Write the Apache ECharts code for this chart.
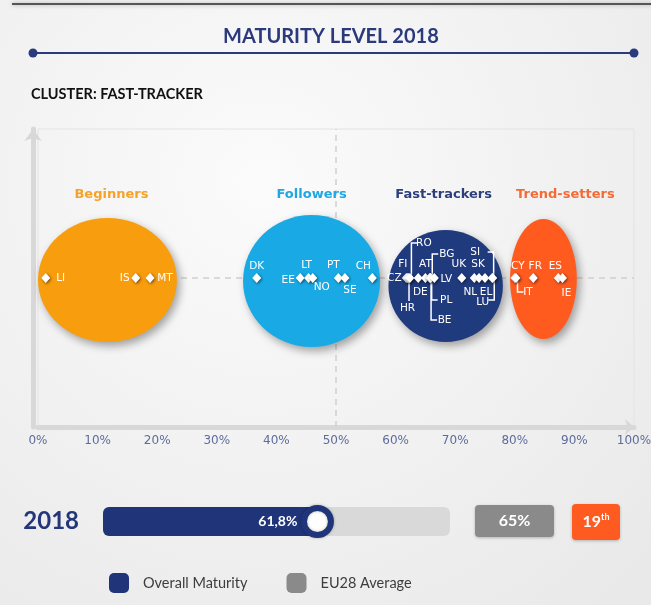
<!DOCTYPE html>
<html>
<head>
<meta charset="utf-8">
<script src="https://cdn.jsdelivr.net/npm/echarts@6.0.0/dist/echarts.min.js"></script>
<style>
  html, body { margin: 0; padding: 0; }
  #chart { width: 651px; height: 605px; }
</style>
</head>
<body>
<div id="chart"></div>
<script>
// Données
const clusterNames = ['Beginners', 'Followers', 'Fast-trackers', 'Trend-setters'];
const clusterFrom = [0, 34.4, 58.8, 79.2];
const clusterTo = [23.3, 57.4, 78.0, 90.4];

const countries = ['LI', 'IS', 'MT', 'DK', 'EE', 'LT', 'NO', 'PT', 'SE', 'CH',
  'CZ', 'HR', 'FI', 'RO', 'DE', 'AT', 'BE', 'PL', 'BG', 'LV',
  'UK', 'NL', 'SK', 'EL', 'SI', 'LU', 'CY', 'IT', 'FR', 'ES', 'IE'];
const maturity = [1.3, 16.4, 18.8, 36.7, 44.0, 45.4, 46.1, 50.4, 51.5, 56.1,
  61.8, 62.0, 62.2, 62.4, 63.8, 65.0, 65.7, 65.8, 65.9, 66.5,
  71.1, 73.2, 74.0, 75.0, 76.2, 76.3, 80.0, 80.2, 83.1, 87.3, 88.0];

const xTicks = [0, 10, 20, 30, 40, 50, 60, 70, 80, 90, 100];
const years = ['2018'];
const overall = [61.8];
const euAverage = 65;
const rank = 19;

// Styles
const NAVY = '#1F3479';
const clusterFill = ['#F89D0E', '#19AAE6', '#203A7E', '#FF5B1F'];
const clusterTitleColor = ['#F6A229', '#1EA7E1', '#2C3F7E', '#F36B36'];
const clusterRy = [62, 66, 56, 60];
const clusterDy = [2, 3, 8, 1];
const clusterTitleDx = [4, 0, -2, 22];

// décalage des étiquettes [dx, dy] en pixels
const labelPos = {
  LI: [15, 0], IS: [-11, 0], MT: [15, 0], DK: [0, -12], EE: [-12, 2],
  LT: [-2, -13], NO: [9, 9], PT: [-5, -13], SE: [5, 12], CH: [-9, -12],
  CZ: [-12, 0], HR: [0, 30], FI: [-6, -14], RO: [14, -35], DE: [2, 14],
  AT: [0, -14], BE: [15, 42], PL: [16, 22], BG: [16, -24], LV: [12, 1],
  UK: [-3, -14], NL: [-4, 14], SK: [-1, -14], EL: [1, 14], SI: [-17, -26],
  LU: [-10, 24], CY: [3, -12], IT: [12, 14], FR: [2, -12], ES: [-3, -12], IE: [4, 15]
};
// traits de rappel [longueur verticale, longueur horizontale]
const leads = { RO: [-35, 6], HR: [23, 0], BG: [-24, 6], PL: [22, 6], BE: [42, 6],
  SI: [-26, -6], LU: [22, -6], IT: [14, 6] };

const chart = echarts.init(document.getElementById('chart'));

function renderCluster(params, api) {
  const i = api.value(2);
  const a = api.coord([api.value(0), 0]);
  const b = api.coord([api.value(1), 0]);
  const cx = (a[0] + b[0]) / 2;
  const rx = (b[0] - a[0]) / 2;
  return {
    type: 'group',
    children: [
      {
        type: 'ellipse',
        shape: { cx: cx, cy: a[1] + clusterDy[i], rx: rx, ry: clusterRy[i] },
        style: {
          fill: clusterFill[i],
          shadowBlur: 8, shadowOffsetX: 3, shadowOffsetY: 4,
          shadowColor: 'rgba(0,0,0,0.35)'
        }
      },
      {
        type: 'text',
        x: cx + clusterTitleDx[i],
        y: a[1] - 83,
        style: {
          text: clusterNames[i],
          fill: clusterTitleColor[i],
          fontFamily: 'DejaVu Sans',
          fontWeight: 'bold',
          fontSize: 13,
          align: 'center',
          verticalAlign: 'middle'
        }
      }
    ]
  };
}

function renderLead(params, api) {
  const name = countries[api.value(1)];
  const p = api.coord([api.value(0), 0]);
  const l = leads[name];
  const x = p[0] + 1.5;
  const pts = [[x, p[1]], [x, p[1] + l[0]]];
  if (l[1]) pts.push([x + l[1], p[1] + l[0]]);
  return {
    type: 'polyline',
    shape: { points: pts },
    style: { stroke: '#ffffff', lineWidth: 1.5, fill: null }
  };
}

const option = {
  backgroundColor: {
    type: 'radial', x: 0.4, y: 0.3, r: 0.9,
    colorStops: [{ offset: 0, color: '#fbfbfb' }, { offset: 1, color: '#e9e9e9' }]
  },
  animation: false,
  title: [
    {
      text: 'MATURITY LEVEL 2018',
      left: 218, top: 22,
      textStyle: { color: '#2B3A7C', fontFamily: 'Lato', fontWeight: 'bold', fontSize: 20 }
    },
    {
      text: 'CLUSTER: FAST-TRACKER',
      left: 26, top: 82,
      textStyle: { color: '#111111', fontFamily: 'Lato', fontWeight: 'bold', fontSize: 14.5 }
    }
  ],
  graphic: [
    { type: 'rect', shape: { x: 12, y: 3, width: 645, height: 2 }, style: { fill: '#555555', shadowBlur: 4, shadowColor: 'rgba(0,0,0,0.3)' } },
    { type: 'line', shape: { x1: 33, y1: 53, x2: 634, y2: 53 }, style: { stroke: '#2B3A7C', lineWidth: 2 } },
    { type: 'circle', shape: { cx: 33, cy: 53, r: 4.5 }, style: { fill: '#2B3A7C' } },
    { type: 'circle', shape: { cx: 634, cy: 53, r: 4.5 }, style: { fill: '#2B3A7C' } },
    {
      type: 'group', left: 475, top: 505,
      children: [
        { type: 'rect', shape: { x: 0, y: 0, width: 79, height: 32, r: 4 }, style: { fill: '#8A8A8A', shadowBlur: 3, shadowOffsetY: 1, shadowColor: 'rgba(0,0,0,0.25)' } },
        { type: 'text', x: 39.5, y: 16, style: { text: euAverage + '%', fill: '#fff', fontFamily: 'Lato', fontWeight: 'bold', fontSize: 16, align: 'center', verticalAlign: 'middle' } }
      ]
    },
    {
      type: 'group', left: 572, top: 504,
      children: [
        { type: 'rect', shape: { x: 0, y: 0, width: 48, height: 36, r: 4 }, style: { fill: '#FF5A1F', shadowBlur: 3, shadowOffsetY: 1, shadowColor: 'rgba(0,0,0,0.25)' } },
        {
          type: 'text', x: 24, y: 18,
          style: {
            text: '{n|' + rank + '}{s|th}',
            rich: {
              n: { fill: '#fff', fontFamily: 'Lato', fontWeight: 'bold', fontSize: 16 },
              s: { fill: '#fff', fontFamily: 'Lato', fontWeight: 'bold', fontSize: 9, padding: [0, 0, 9, 0] }
            },
            align: 'center', verticalAlign: 'middle'
          }
        }
      ]
    }
  ],
  legend: {
    data: ['Overall Maturity', 'EU28 Average'],
    left: 109, top: 573,
    icon: 'roundRect',
    itemWidth: 20, itemHeight: 20, itemGap: 39,
    selectedMode: false,
    padding: 0,
    textStyle: { fontFamily: 'Lato', fontSize: 14.5, color: '#3d3d3d', padding: [0, 0, 0, 9] }
  },
  grid: [
    { left: 38, right: 17, top: 129, height: 298, show: true, borderColor: '#e3e3e3', borderWidth: 1, outerBoundsMode: 'none' },
    { left: 103, width: 347, top: 507, height: 29, outerBoundsMode: 'none' }
  ],
  xAxis: [
    {
      gridIndex: 0, type: 'value', min: xTicks[0], max: xTicks[xTicks.length - 1], interval: 10,
      axisLine: { show: true, onZero: false, symbol: ['none', 'arrow'], symbolSize: [12, 9], lineStyle: { color: '#d8d8d8', width: 5 } },
      axisTick: { show: false },
      splitLine: { show: false },
      axisLabel: { formatter: '{value}%', color: '#5d6c9c', fontFamily: 'DejaVu Sans', fontSize: 12, margin: 8 }
    },
    { gridIndex: 1, type: 'value', min: 0, max: 100, show: false }
  ],
  yAxis: [
    {
      gridIndex: 0, type: 'value', min: -1, max: 1, offset: 5,
      axisLine: { show: true, onZero: false, symbol: ['none', 'arrow'], symbolSize: [13, 12], lineStyle: { color: '#d8d8d8', width: 5 } },
      axisTick: { show: false },
      axisLabel: { show: false },
      splitLine: { show: false }
    },
    {
      gridIndex: 1, type: 'category', data: years,
      axisLine: { show: false }, axisTick: { show: false },
      axisLabel: { color: '#23367A', fontFamily: 'Lato', fontWeight: 'bold', fontSize: 24, margin: 24 }
    }
  ],
  series: [
    {
      type: 'line', data: [], z: 1, silent: true,
      markLine: {
        z: 1,
        symbol: 'none', silent: true, label: { show: false },
        lineStyle: { color: '#cfcfcf', width: 1.5, type: [6, 5] },
        data: [{ xAxis: 50 }, { yAxis: 0 }]
      }
    },
    {
      type: 'custom', z: 2, silent: true,
      renderItem: renderCluster,
      data: clusterNames.map((n, i) => [clusterFrom[i], clusterTo[i], i])
    },
    {
      type: 'custom', z: 3, silent: true,
      renderItem: renderLead,
      data: countries.map((c, i) => [maturity[i], i]).filter(d => leads[countries[d[1]]])
    },
    {
      type: 'scatter', z: 4,
      symbol: 'diamond', symbolSize: [9, 10],
      itemStyle: { color: '#ffffff', opacity: 1, shadowBlur: 3, shadowOffsetX: 1, shadowOffsetY: 1, shadowColor: 'rgba(0,0,0,0.55)' },
      label: {
        show: true, position: 'inside', formatter: '{b}',
        color: '#ffffff', fontFamily: 'DejaVu Sans', fontSize: 10.5
      },
      data: countries.map((c, i) => ({
        name: c,
        value: [maturity[i], 0],
        label: { offset: labelPos[c] }
      }))
    },
    {
      name: 'Overall Maturity', type: 'bar', xAxisIndex: 1, yAxisIndex: 1,
      data: overall, barWidth: 29,
      itemStyle: { color: NAVY, borderRadius: [6, 0, 0, 6] },
      showBackground: true,
      backgroundStyle: { color: '#d9d9d9', borderRadius: 6 },
      label: {
        show: true, position: 'insideRight', offset: [-15, 0],
        formatter: p => String(p.value).replace('.', ',') + '%',
        color: '#fff', fontFamily: 'Lato', fontWeight: 'bold', fontSize: 14
      }
    },
    {
      name: 'marker', type: 'scatter', xAxisIndex: 1, yAxisIndex: 1, z: 5,
      symbolSize: 27,
      itemStyle: { color: '#ffffff', opacity: 1, borderColor: NAVY, borderWidth: 6, shadowBlur: 3, shadowColor: 'rgba(0,0,0,0.3)' },
      data: overall.map((v, i) => [v, years[i]])
    },
    {
      name: 'EU28 Average', type: 'scatter', xAxisIndex: 1, yAxisIndex: 1,
      itemStyle: { color: '#8A8A8A', opacity: 1 },
      data: []
    }
  ]
};

chart.setOption(option);
</script>
</body>
</html>
